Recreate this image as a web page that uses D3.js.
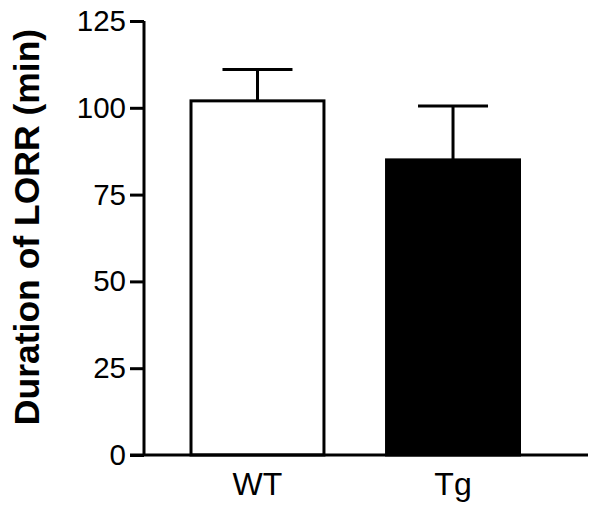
<!DOCTYPE html>
<html>
<head>
<meta charset="utf-8">
<script src="https://cdn.jsdelivr.net/npm/d3@7"></script>
<style>
html,body{margin:0;padding:0;background:#fff;}
svg{display:block;font-family:"Liberation Sans",Arial,sans-serif;}
</style>
</head>
<body>
<svg id="chart" width="602" height="519"></svg>
<script>
const categories = ["WT", "Tg"];
const means = [102, 85];
const errors = [9, 15.5];
const fills = ["#ffffff", "#000000"];
const yTicks = [0, 25, 50, 75, 100, 125];
const yTitle = "Duration of LORR (min)";

const svg = d3.select("#chart");
const y = d3.scaleLinear().domain([0, 125]).range([455, 21]);
const x = d3.scaleBand().domain(categories).range([191, 519.5]).paddingInner(0.32).paddingOuter(0);

const data = categories.map((c, i) => ({c, m: means[i], e: errors[i], f: fills[i]}));

// error bars
const eb = svg.append("g");
eb.selectAll("line.stem").data(data).join("line")
  .attr("x1", d => x(d.c) + x.bandwidth() / 2)
  .attr("x2", d => x(d.c) + x.bandwidth() / 2)
  .attr("y1", d => y(d.m))
  .attr("y2", d => y(d.m + d.e))
  .attr("stroke", "#000").attr("stroke-width", 3);
eb.selectAll("line.cap").data(data).join("line")
  .attr("x1", d => x(d.c) + x.bandwidth() / 2 - 35)
  .attr("x2", d => x(d.c) + x.bandwidth() / 2 + 35)
  .attr("y1", d => y(d.m + d.e))
  .attr("y2", d => y(d.m + d.e))
  .attr("stroke", "#000").attr("stroke-width", 3);

// bars
svg.append("g").selectAll("rect").data(data).join("rect")
  .attr("x", d => x(d.c))
  .attr("y", d => y(d.m))
  .attr("width", x.bandwidth())
  .attr("height", d => y(0) - y(d.m))
  .attr("fill", d => d.f)
  .attr("stroke", "#000").attr("stroke-width", 3);

// y axis
const yAxis = svg.append("g").attr("transform", "translate(144,0)")
  .call(d3.axisLeft(y).tickValues(yTicks).tickSize(14).tickPadding(4));
yAxis.select(".domain").attr("d", `M0,${y(125)}V${y(0)}`).attr("stroke-width", 3);
yAxis.selectAll(".tick line").attr("stroke-width", 3);
yAxis.selectAll(".tick text").attr("font-size", 29.5).attr("fill", "#000")
  .attr("font-family", "Liberation Sans, Arial, sans-serif");

// x axis
const xAxis = svg.append("g").attr("transform", `translate(0,${y(0)})`)
  .call(d3.axisBottom(x).tickSize(0).tickPadding(17));
xAxis.select(".domain").attr("d", "M130,0H588").attr("stroke-width", 3);
xAxis.selectAll(".tick text").attr("font-size", 32).attr("fill", "#000")
  .attr("font-family", "Liberation Sans, Arial, sans-serif");

// y title
svg.append("text")
  .attr("transform", `translate(39,227) rotate(-90)`)
  .attr("text-anchor", "middle")
  .attr("font-size", 35.5).attr("font-weight", "bold")
  .text(yTitle);
</script>
</body>
</html>
